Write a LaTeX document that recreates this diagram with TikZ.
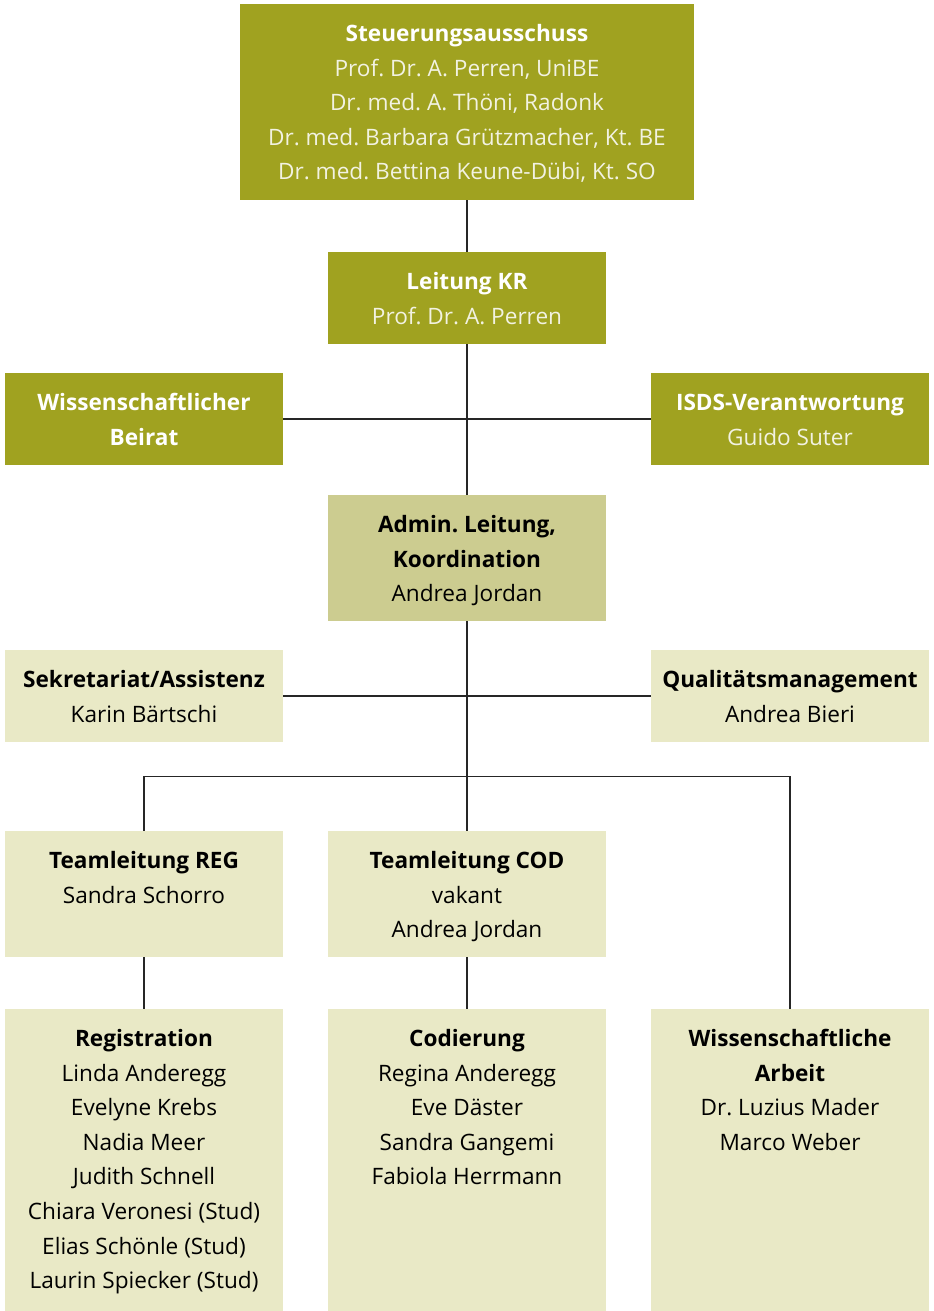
\documentclass[tikz,border=0pt]{standalone}
\usepackage{fontspec}
\setmainfont{Open Sans}
\frenchspacing
\definecolor{cdark}{HTML}{A0A220}
\definecolor{cmid}{HTML}{CCCC90}
\definecolor{clight}{HTML}{E9E9C6}
\definecolor{cname}{HTML}{F2F2E2}
\begin{document}
\begin{tikzpicture}[x=0.5pt,y=-0.5pt,
  box/.style={rectangle,inner sep=0pt,draw=none},
  dark/.style={box,fill=cdark},
  mid/.style={box,fill=cmid},
  light/.style={box,fill=clight},
  smallbox/.style={minimum width=139pt,minimum height=46pt},
  medbox/.style={minimum width=139pt,minimum height=63pt},
  tallbox/.style={minimum width=139pt,minimum height=151pt},
  lbl/.style={anchor=north,inner sep=0pt,align=center,font=\fontsize{11.3pt}{17.3pt}\selectfont},
  wlbl/.style={lbl,text=white},
  blbl/.style={lbl,text=black},
  conn/.style={draw=black!85,line width=0.75pt}
]
\useasboundingbox (0,0) rectangle (933,1311);
% boxes
\node[dark,minimum width=227pt,minimum height=98pt] (steu) at (467,102) {};
\node[dark,smallbox] (leit) at (467,298) {};
\node[dark,smallbox] (wiss) at (144,419) {};
\node[dark,smallbox] (isds) at (790,419) {};
\node[mid,medbox] (admin) at (467,558) {};
\node[light,smallbox] (sek) at (144,696) {};
\node[light,smallbox] (qual) at (790,696) {};
\node[light,medbox] (treg) at (144,894) {};
\node[light,medbox] (tcod) at (467,894) {};
\node[light,tallbox] (reg) at (144,1160) {};
\node[light,tallbox] (cod) at (467,1160) {};
\node[light,tallbox] (wa) at (790,1160) {};
% connectors
\draw[conn] (steu.south) -- (leit.north);
\draw[conn] (leit.south) -- (admin.north);
\draw[conn] (wiss.east) -- (isds.west);
\draw[conn] (admin.south) -- (tcod.north);
\draw[conn] (sek.east) -- (qual.west);
\draw[conn] (treg.north) -- ++(0,-54) -| (wa.north);
\draw[conn] (treg.south) -- (reg.north);
\draw[conn] (tcod.south) -- (cod.north);
% texts
\node[wlbl] (tsteu) at (467,16.8) {\strut\textbf{Steuerungsausschuss}\\\color{cname}Prof. Dr. A. Perren, UniBE\\\color{cname}Dr. med. A. Thöni, Radonk\\\color{cname}Dr. med. Barbara Grützmacher, Kt. BE\\\color{cname}Dr. med. Bettina Keune-Dübi, Kt. SO};
\node[wlbl] (tleit) at (467,264.8) {\strut\textbf{Leitung KR}\\\color{cname}Prof. Dr. A. Perren};
\node[wlbl] (twiss) at (144,385.8) {\strut\textbf{Wissenschaftlicher}\\\textbf{Beirat}};
\node[wlbl] (tisds) at (790,385.8) {\strut\textbf{ISDS-Verantwortung}\\\color{cname}Guido Suter};
\node[blbl] (tadmin) at (467,507.8) {\strut\textbf{Admin. Leitung,}\\\textbf{Koordination}\\Andrea Jordan};
\node[blbl] (tsek) at (144,662.8) {\strut\textbf{Sekretariat/Assistenz}\\Karin Bärtschi};
\node[blbl] (tqual) at (790,662.8) {\strut\textbf{Qualitätsmanagement}\\Andrea Bieri};
\node[blbl] (ttreg) at (144,843.8) {\strut\textbf{Teamleitung REG}\\Sandra Schorro};
\node[blbl] (ttcod) at (467,843.8) {\strut\textbf{Teamleitung COD}\\vakant\\Andrea Jordan};
\node[blbl] (treg2) at (144,1021.8) {\strut\textbf{Registration}\\Linda Anderegg\\Evelyne Krebs\\Nadia Meer\\Judith Schnell\\Chiara Veronesi (Stud)\\Elias Schönle (Stud)\\Laurin Spiecker (Stud)};
\node[blbl] (tcod2) at (467,1021.8) {\strut\textbf{Codierung}\\Regina Anderegg\\Eve Däster\\Sandra Gangemi\\Fabiola Herrmann};
\node[blbl] (twa) at (790,1021.8) {\strut\textbf{Wissenschaftliche}\\\textbf{Arbeit}\\Dr. Luzius Mader\\Marco Weber};
\end{tikzpicture}
\end{document}
